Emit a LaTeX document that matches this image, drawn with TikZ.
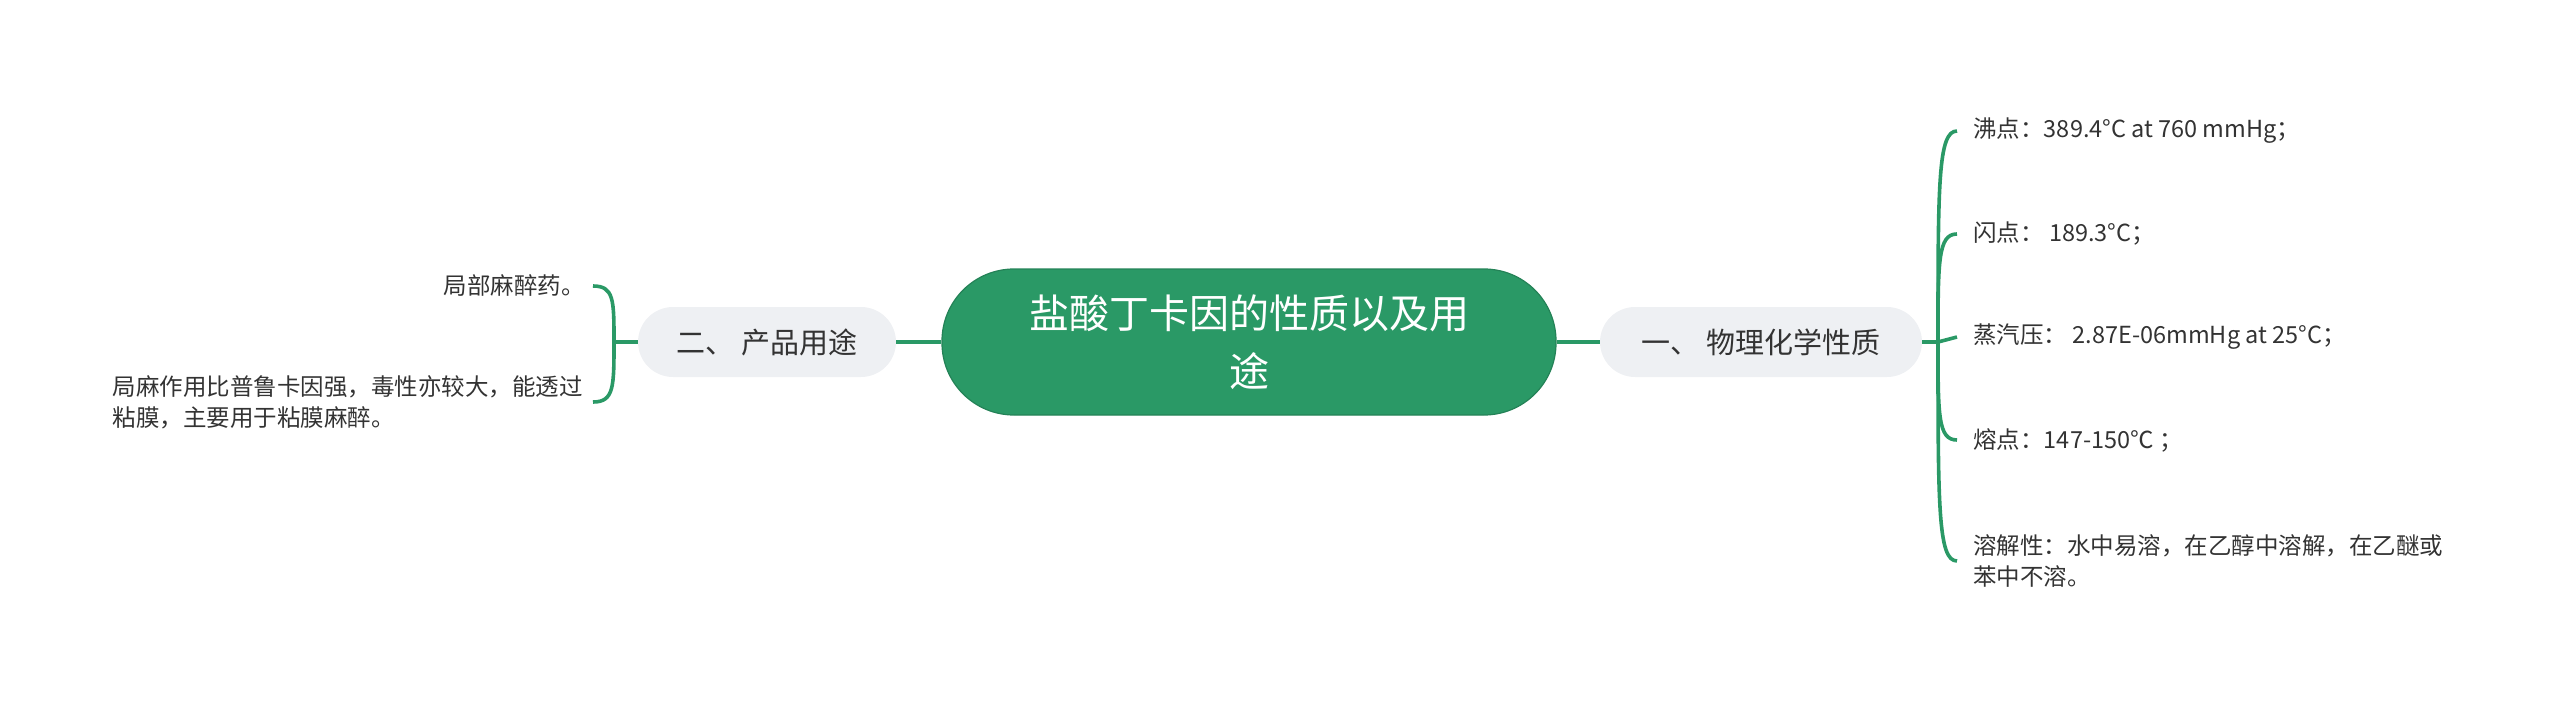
\documentclass[tikz,border=0pt]{standalone}
\usepackage{fontspec}
\setmainfont{Noto Sans CJK SC}
\usetikzlibrary{positioning,calc}
\definecolor{vert}{HTML}{2A9966}
\definecolor{gris}{HTML}{EEF0F3}
\definecolor{encre}{HTML}{333333}

\begin{document}
\begin{tikzpicture}[x=0.5pt,y=-0.5pt]
    \tikzset{RacineStyle/.style =   {fill=vert,draw=vert!85!black,line width=.6pt,rounded corners=36pt,minimum width=307pt,minimum height=73pt,align=center,text=white,font=\fontsize{20pt}{29pt}\selectfont}}
    \tikzset{BrancheStyle/.style =   {fill=gris,rounded corners=17.5pt,minimum height=35pt,text=encre,font=\fontsize{14.5pt}{18pt}\selectfont}}
    \tikzset{FeuilleStyle/.style =   {inner xsep=6pt,inner ysep=2pt,align=left,text=encre,font=\fontsize{11.75pt}{15.5pt}\selectfont}}
    \tikzset{LienStyle/.style =   {draw=vert,line width=1.8pt}}

    \useasboundingbox (0,0) rectangle (2560,701);

    % centre et branches
    \node[RacineStyle] (root) at (1249,342) {盐酸丁卡因的性质以及用\\途};
    \node[BrancheStyle,minimum width=161pt] (phys) at (1761,342) {一、 物理化学性质};
    \node[BrancheStyle,minimum width=129pt] (usage) at (767,342) {二、 产品用途};

    % feuilles a droite
    \node[FeuilleStyle,anchor=west,inner xsep=8pt] (bp) at (1957,131) {沸点：389.4°C at 760 mmHg；};
    \node[FeuilleStyle,anchor=west,inner xsep=8pt] (fp) at (1957,234) {闪点： 189.3°C；};
    \node[FeuilleStyle,anchor=west,inner xsep=8pt] (vp) at (1957,337) {蒸汽压： 2.87E-06mmHg at 25°C；};
    \node[FeuilleStyle,anchor=west,inner xsep=8pt] (mp) at (1957,440) {熔点：147-150℃ ；};
    \node[FeuilleStyle,anchor=west,inner xsep=8pt] (sol) at (1957,561) {溶解性：水中易溶，在乙醇中溶解，在乙醚或\\苯中不溶。};

    % feuilles a gauche
    \node[FeuilleStyle,anchor=east,inner xsep=4pt] (ane) at (593,286) {局部麻醉药。};
    \node[FeuilleStyle,anchor=east,inner xsep=5pt] (eff) at (593,402) {局麻作用比普鲁卡因强，毒性亦较大，能透过\\粘膜，主要用于粘膜麻醉。};

    \coordinate (pd) at (1938,342);
    \coordinate (pg) at (614,342);

    \path[LienStyle]
    (root.east) edge (phys.west)
    (usage.east) edge (root.west)
    (phys.east) edge (pd)
    (usage.west) edge (pg);

    \foreach \f in {bp,fp,mp,sol}
      \draw[LienStyle] (pd) .. controls ($(pd)!.75!(pd |- \f.west)$) and (pd |- \f.west) .. (\f.west);
    \draw[LienStyle] (pd) -- (vp.west);

    \foreach \f in {ane,eff}
      \draw[LienStyle] (pg) .. controls ($(pg)!.75!(pg |- \f.east)$) and (pg |- \f.east) .. (\f.east);
\end{tikzpicture}
\end{document}
